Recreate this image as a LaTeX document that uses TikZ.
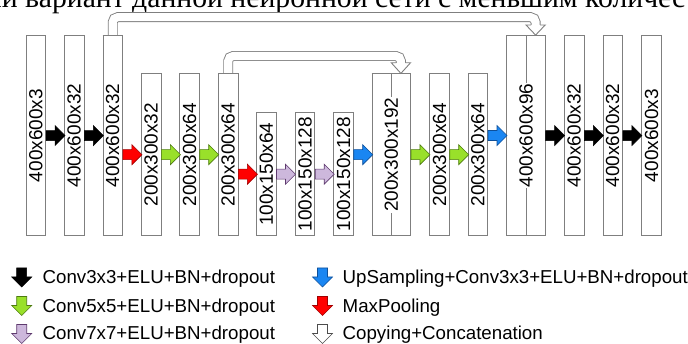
\documentclass[tikz,border=0pt]{standalone}
\usepackage{fontspec}
\setmainfont{Liberation Sans}
\newfontfamily\rufont{Liberation Serif}
\usetikzlibrary{calc}
\definecolor{boxgray}{HTML}{7F7F7F}
\definecolor{grn}{HTML}{99E02A}
\definecolor{grnd}{HTML}{4D7A10}
\definecolor{pur}{HTML}{CDB8DC}
\definecolor{purd}{HTML}{5E3A6E}
\definecolor{blu}{HTML}{1A86F2}
\definecolor{blud}{HTML}{0D4F99}
\definecolor{rd}{HTML}{FF0000}
\definecolor{rdd}{HTML}{A00000}
\tikzset{
  blk/.pic={\path[pic actions] (0,-5) -- (9,-5) -- (9,-10) -- (19,0) -- (9,10) -- (9,5) -- (0,5) -- cycle;},
  box/.style={draw=boxgray, fill=white, line width=0.9pt, minimum width=19.5pt, inner sep=0pt, anchor=south},
  widebox/.style={box, minimum width=38.4pt},
  lbl/.style={rotate=90, inner sep=0.8pt, font=\fontsize{19}{19}\selectfont},
  leg/.style={anchor=base west, inner sep=0pt, font=\fontsize{18.7}{18.7}\selectfont},
  skip/.style={draw=boxgray, line width=0.9pt, double=white, double distance=8.1pt, rounded corners=5pt},
  skiphead/.style={draw=boxgray, fill=white, line width=0.9pt, line join=miter},
  ablack/.style={fill=black, draw=black, line width=0.5pt},
  agreen/.style={fill=grn, draw=grnd, line width=0.6pt},
  apurple/.style={fill=pur, draw=purd, line width=0.6pt},
  ablue/.style={fill=blu, draw=blud, line width=0.6pt},
  ared/.style={fill=rd, draw=rdd, line width=0.6pt},
  awhite/.style={fill=white, draw=black!70, line width=0.6pt},
}
\begin{document}
\begin{tikzpicture}[x=1pt,y=-1pt]
\useasboundingbox (0,0) rectangle (688,344);

% clipped line of text above the figure
\node[anchor=base west, inner sep=0pt, font=\rufont\fontsize{29.7}{29.7}\selectfont] (hdr) at (25,8)
  {\llap{ый\ }вариант данной нейронной сети с меньшим количес};

% boxes
\node[box, minimum height=200pt]   (b1)  at (35.8,236) {};
\node[box, minimum height=200pt]   (b2)  at (74.2,236) {};
\node[box, minimum height=200pt]   (b3)  at (112.7,236) {};
\node[box, minimum height=161.7pt] (b4)  at (151.2,236) {};
\node[box, minimum height=161.7pt] (b5)  at (189.5,236) {};
\node[box, minimum height=161.7pt] (b6)  at (228.2,236) {};
\node[box, minimum height=122.7pt] (b7)  at (266.3,236) {};
\node[box, minimum height=122.7pt] (b8)  at (305,236) {};
\node[box, minimum height=122.7pt] (b9)  at (343.5,236) {};
\node[widebox, minimum height=161.7pt] (b10) at (391.3,236) {};
\node[box, minimum height=161.7pt] (b11) at (439.5,236) {};
\node[box, minimum height=161.7pt] (b12) at (477.8,236) {};
\node[widebox, minimum height=200pt] (b13) at (526,236) {};
\node[box, minimum height=200pt]   (b14) at (574.2,236) {};
\node[box, minimum height=200pt]   (b15) at (612.7,236) {};
\node[box, minimum height=200pt]   (b16) at (651.5,236) {};

% skip connections (copying + concatenation)
\coordinate (r10) at ([xshift=9.6pt]b10.north);
\coordinate (r13) at ([xshift=9.6pt]b13.north);
\coordinate (h10) at (r10 |- 0,62.8);
\coordinate (h13) at (r13 |- 0,25);
\draw[skip] (b3.north) -- (b3.north |- 0,17.2) -- (r13 |- 0,17.2) -- (r13 |- 0,25.6);
\path[skiphead] ([xshift=-4.5pt]h13) -- ([xshift=-9.6pt]h13) -- (r13) -- ([xshift=9.6pt]h13) -- ([xshift=4.5pt]h13);
\draw[skip] (b6.north) -- (b6.north |- 0,56) -- (r10 |- 0,56) -- (r10 |- 0,63.4);
\path[skiphead] ([xshift=-4.5pt]h10) -- ([xshift=-9.6pt]h10) -- (r10) -- ([xshift=9.6pt]h10) -- ([xshift=4.5pt]h10);
% redraw box tops over skip ends
\draw[boxgray, line width=0.9pt] (b3.north west) -- (b3.north east);
\draw[boxgray, line width=0.9pt] (b6.north west) -- (b6.north east);
\draw[boxgray, line width=0.9pt] (b10.north west) -- (b10.north east);
\draw[boxgray, line width=0.9pt] (b13.north west) -- (b13.north east);

% dividers in concatenated boxes
\draw[boxgray, line width=0.9pt] (b10.north) -- (b10.south);
\draw[boxgray, line width=0.9pt] (b13.north) -- (b13.south);

% labels
\node[lbl] (t1)  at (b1)  {400x600x3};
\node[lbl] (t2)  at (b2)  {400x600x32};
\node[lbl] (t3)  at (b3)  {400x600x32};
\node[lbl] (t4)  at (b4)  {200x300x32};
\node[lbl] (t5)  at (b5)  {200x300x64};
\node[lbl] (t6)  at (b6)  {200x300x64};
\node[lbl] (t7)  at (b7)  {100x150x64};
\node[lbl] (t8)  at (b8)  {100x150x128};
\node[lbl] (t9)  at (b9)  {100x150x128};
\node[lbl, fill=white] (t10) at (b10) {200x300x192};
\node[lbl] (t11) at (b11) {200x300x64};
\node[lbl] (t12) at (b12) {200x300x64};
\node[lbl, fill=white] (t13) at (b13) {400x600x96};
\node[lbl] (t14) at (b14) {400x600x32};
\node[lbl] (t15) at (b15) {400x600x32};
\node[lbl] (t16) at (b16) {400x600x3};

% block arrows between boxes
\pic[ablack]  at (b1.east  |- b2.center)  {blk};
\pic[ablack]  at (b2.east  |- b3.center)  {blk};
\pic[ared]    at (b3.east  |- b4.center)  {blk};
\pic[agreen]  at (b4.east  |- b5.center)  {blk};
\pic[agreen]  at (b5.east  |- b6.center)  {blk};
\pic[ared]    at (b6.east  |- b7.center)  {blk};
\pic[apurple] at (b7.east  |- b8.center)  {blk};
\pic[apurple] at (b8.east  |- b9.center)  {blk};
\pic[ablue]   at (b9.east  |- b10.center) {blk};
\pic[agreen]  at (b10.east |- b11.center) {blk};
\pic[agreen]  at (b11.east |- b12.center) {blk};
\pic[ablue]   at (b12.east |- b13.center) {blk};
\pic[ablack]  at (b13.east |- b14.center) {blk};
\pic[ablack]  at (b14.east |- b15.center) {blk};
\pic[ablack]  at (b15.east |- b16.center) {blk};

% legend
\pic[ablack, rotate=-90]  at (21.7,268)   {blk};
\pic[agreen, rotate=-90]  at (21.7,296.5) {blk};
\pic[apurple, rotate=-90] at (21.7,324.5) {blk};
\pic[ablue, rotate=-90]   at (322.5,268)   {blk};
\pic[ared, rotate=-90]    at (322.5,296.5) {blk};
\pic[awhite, rotate=-90]  at (322.5,324.5) {blk};
\node[leg] (l1) at (42.5,283.3) {Conv3x3+ELU+BN+dropout};
\node[leg] (l2) at (42.5,312.3) {Conv5x5+ELU+BN+dropout};
\node[leg] (l3) at (42.5,340)   {Conv7x7+ELU+BN+dropout};
\node[leg] (l4) at (342.5,283.3) {UpSampling+Conv3x3+ELU+BN+dropout};
\node[leg] (l5) at (342.5,312.3) {MaxPooling};
\node[leg] (l6) at (342.5,340)   {Copying+Concatenation};
\end{tikzpicture}
\end{document}
